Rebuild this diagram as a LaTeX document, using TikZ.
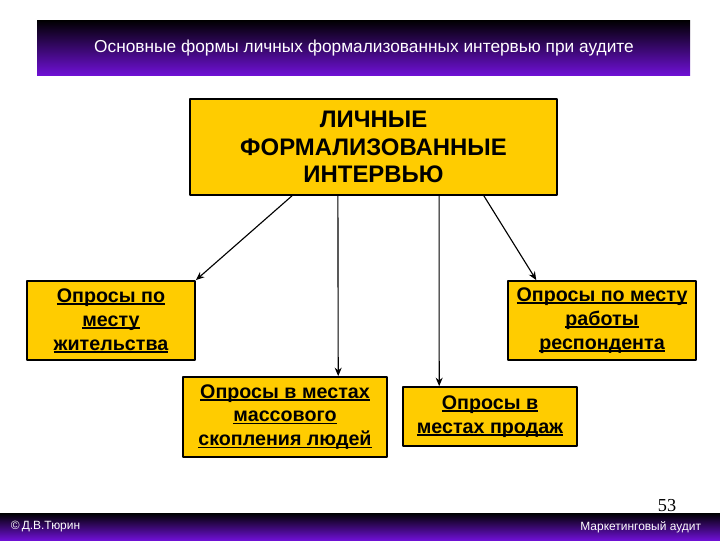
\documentclass[tikz,border=0pt]{standalone}
\usepackage{fontspec}
\setmainfont{Liberation Sans}
\newfontfamily\numfont{Liberation Serif}
\usetikzlibrary{arrows.meta}
\definecolor{boxyellow}{HTML}{FFCC00}
\definecolor{barblue}{HTML}{1A26DC}
\definecolor{barviolet}{HTML}{6E10D4}
% подчёркивание у самой базовой линии
\newcommand{\ulin}[1]{\setbox0\hbox{#1}\rlap{\rule[-1.8pt]{\wd0}{1.1pt}}\box0}
\begin{document}
\begin{tikzpicture}[x=0.025cm, y=-0.025cm, line join=round, line cap=round, >={Stealth[length=6pt,width=5pt]},
  box/.style={draw=black, line width=1.3pt, fill=boxyellow, align=center, inner sep=2pt,
    font=\fontsize{14}{17}\selectfont\bfseries},
  link/.style={->, line width=0.8pt}]
\useasboundingbox (0,0) rectangle (720,540);

% Заголовок
\shade[top color=black, middle color=barblue, bottom color=barviolet] (37,20) rectangle (690,75);
\node[white, font=\fontsize{12.3}{14}\selectfont] (title) at (364,48)
  {Основные формы личных формализованных интервью при аудите};

% Блоки
\node[box, minimum width=9.175cm, minimum height=2.4cm, font=\fontsize{17}{19.5}\selectfont\bfseries]
  (main) at (373.5,147) {ЛИЧНЫЕ\\ФОРМАЛИЗОВАННЫЕ\\ИНТЕРВЬЮ};
\node[box, minimum width=4.2cm, minimum height=1.975cm] (home) at (111,320.5)
  {\ulin{Опросы по}\\\ulin{месту}\\\ulin{жительства}};
\node[box, minimum width=4.7cm, minimum height=1.975cm] (work) at (602,320.5)
  {\ulin{Опросы по месту}\\\ulin{работы}\\\ulin{респондента}};
\node[box, minimum width=5.1cm, minimum height=2cm] (crowd) at (285,417)
  {\ulin{Опросы в местах}\\\ulin{массового}\\\ulin{скопления людей}};
\node[box, minimum width=4.35cm, minimum height=1.475cm] (sales) at (490,416.5)
  {\ulin{Опросы в}\\\ulin{местах продаж}};

% Стрелки
\draw[link] ([xshift=-2.04cm]main.south) -- (home.north east);
\draw[link] ([xshift=-0.89cm]main.south) -- ([xshift=1.33cm]crowd.north);
\draw[link] ([xshift=1.64cm]main.south) -- ([xshift=-1.27cm]sales.north);
\draw[link] ([xshift=2.76cm]main.south) -- ([xshift=0.73cm]work.north west);

% Нижняя полоса
\node[font=\numfont\fontsize{13}{15}\selectfont] (page) at (667,506) {53};
\shade[top color=black, middle color=barblue, bottom color=barviolet] (0,513) rectangle (720,540);
\node[white, anchor=west, font=\fontsize{8.5}{10}\selectfont] (author) at (6,527) {©\,Д.В.Тюрин};
\node[white, anchor=east, font=\fontsize{8.5}{10}\selectfont] (course) at (706,527) {Маркетинговый аудит};
\end{tikzpicture}
\end{document}
